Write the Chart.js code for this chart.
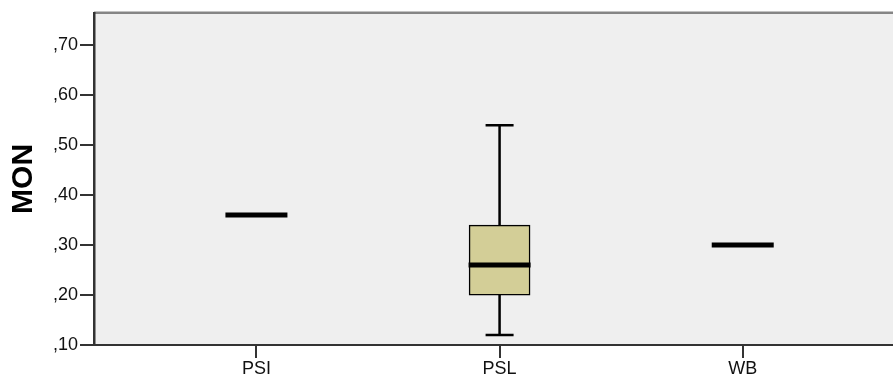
<!DOCTYPE html>
<html>
<head>
<meta charset="utf-8">
<script src="https://cdn.jsdelivr.net/npm/chart.js@4/dist/chart.umd.min.js"></script>
<style>
  html, body { margin: 0; padding: 0; background: #ffffff; }
  #wrap { width: 893px; height: 382px; }
</style>
</head>
<body>
<div id="wrap"><canvas id="c" width="893" height="382"></canvas></div>
<script>
// Five-number summaries of MON per group
const categories  = ['PSI', 'PSL', 'WB'];
const whiskerLow  = [0.36, 0.12, 0.30];
const quartile1   = [0.36, 0.20, 0.30];
const medians     = [0.36, 0.26, 0.30];
const quartile3   = [0.36, 0.34, 0.30];
const whiskerHigh = [0.36, 0.54, 0.30];
const yTicks      = [0.10, 0.20, 0.30, 0.40, 0.50, 0.60, 0.70];

const FONT = "'Liberation Sans', Arial, sans-serif";
const BOX_WIDTH = 61;
const CAP_WIDTH = 28;
const MEDIAN_WIDTH = 62;

// Light grey plot background and the thin grey frame line on top
const plotFrame = {
  id: 'plotFrame',
  beforeDraw(chart) {
    const { ctx, chartArea: a } = chart;
    ctx.save();
    ctx.fillStyle = '#efefef';
    ctx.fillRect(a.left, a.top, a.right - a.left, a.bottom - a.top);
    ctx.strokeStyle = '#858585';
    ctx.lineWidth = 2.5;
    ctx.beginPath();
    ctx.moveTo(a.left, a.top);
    ctx.lineTo(a.right, a.top);
    ctx.stroke();
    ctx.restore();
  }
};

// Whiskers, caps and median lines, placed through the chart scales
const boxWhiskers = {
  id: 'boxWhiskers',
  afterDatasetsDraw(chart) {
    const { ctx } = chart;
    const xs = chart.scales.x, ys = chart.scales.y;
    ctx.save();
    ctx.strokeStyle = '#000000';
    ctx.lineCap = 'butt';
    categories.forEach((cat, i) => {
      const x = xs.getPixelForValue(i + 1);
      const yLo = ys.getPixelForValue(whiskerLow[i]);
      const yQ1 = ys.getPixelForValue(quartile1[i]);
      const yQ3 = ys.getPixelForValue(quartile3[i]);
      const yHi = ys.getPixelForValue(whiskerHigh[i]);
      const yMed = ys.getPixelForValue(medians[i]);
      ctx.lineWidth = 2.5;
      if (whiskerHigh[i] > quartile3[i]) {
        ctx.beginPath();
        ctx.moveTo(x, yQ3); ctx.lineTo(x, yHi);
        ctx.moveTo(x - CAP_WIDTH / 2, yHi); ctx.lineTo(x + CAP_WIDTH / 2, yHi);
        ctx.stroke();
      }
      if (whiskerLow[i] < quartile1[i]) {
        ctx.beginPath();
        ctx.moveTo(x, yQ1); ctx.lineTo(x, yLo);
        ctx.moveTo(x - CAP_WIDTH / 2, yLo); ctx.lineTo(x + CAP_WIDTH / 2, yLo);
        ctx.stroke();
      }
      ctx.lineWidth = 5;
      ctx.beginPath();
      ctx.moveTo(x - MEDIAN_WIDTH / 2, yMed);
      ctx.lineTo(x + MEDIAN_WIDTH / 2, yMed);
      ctx.stroke();
    });
    ctx.restore();
  }
};

new Chart(document.getElementById('c'), {
  type: 'bar',
  data: {
    datasets: [{
      label: 'MON',
      data: categories.map((c, i) => ({ x: i + 1, y: [quartile1[i], quartile3[i]] })),
      backgroundColor: '#d3ce97',
      borderColor: '#000000',
      borderWidth: 1.5,
      borderSkipped: false,
      barThickness: BOX_WIDTH
    }]
  },
  options: {
    responsive: false,
    animation: false,
    devicePixelRatio: 1,
    layout: { padding: { top: 11, right: 0, bottom: 0, left: 0 } },
    plugins: { legend: { display: false }, tooltip: { enabled: false } },
    scales: {
      x: {
        type: 'linear',
        position: 'bottom',
        offset: false,
        min: 0.332,
        max: 3.618,
        afterBuildTicks: s => { s.ticks = categories.map((c, i) => ({ value: i + 1 })); },
        afterFit: s => { s.height = 37; },
        ticks: {
          callback: v => categories[v - 1],
          font: { family: FONT, size: 18 },
          color: '#111111',
          padding: 0,
          maxRotation: 0,
          autoSkip: false
        },
        grid: {
          offset: false,
          drawOnChartArea: false,
          drawTicks: true,
          tickLength: 13,
          tickColor: '#333333',
          lineWidth: 2
        },
        border: { display: true, color: '#333333', width: 2 }
      },
      y: {
        type: 'linear',
        min: 0.10,
        max: 0.765,
        afterBuildTicks: s => { s.ticks = yTicks.map(v => ({ value: v })); },
        afterFit: s => { s.width = 94; },
        ticks: {
          callback: v => ',' + String(Math.round(v * 100)).padStart(2, '0'),
          font: { family: FONT, size: 18 },
          color: '#111111',
          padding: 2
        },
        grid: {
          drawOnChartArea: false,
          drawTicks: true,
          tickLength: 14,
          tickColor: '#333333',
          lineWidth: 2
        },
        border: { display: true, color: '#333333', width: 2.5 },
        title: {
          display: true,
          text: 'MON',
          font: { family: FONT, size: 30, weight: 'bold' },
          color: '#000000',
          padding: { top: 6, bottom: 0 }
        }
      }
    }
  },
  plugins: [plotFrame, boxWhiskers]
});
</script>
</body>
</html>
